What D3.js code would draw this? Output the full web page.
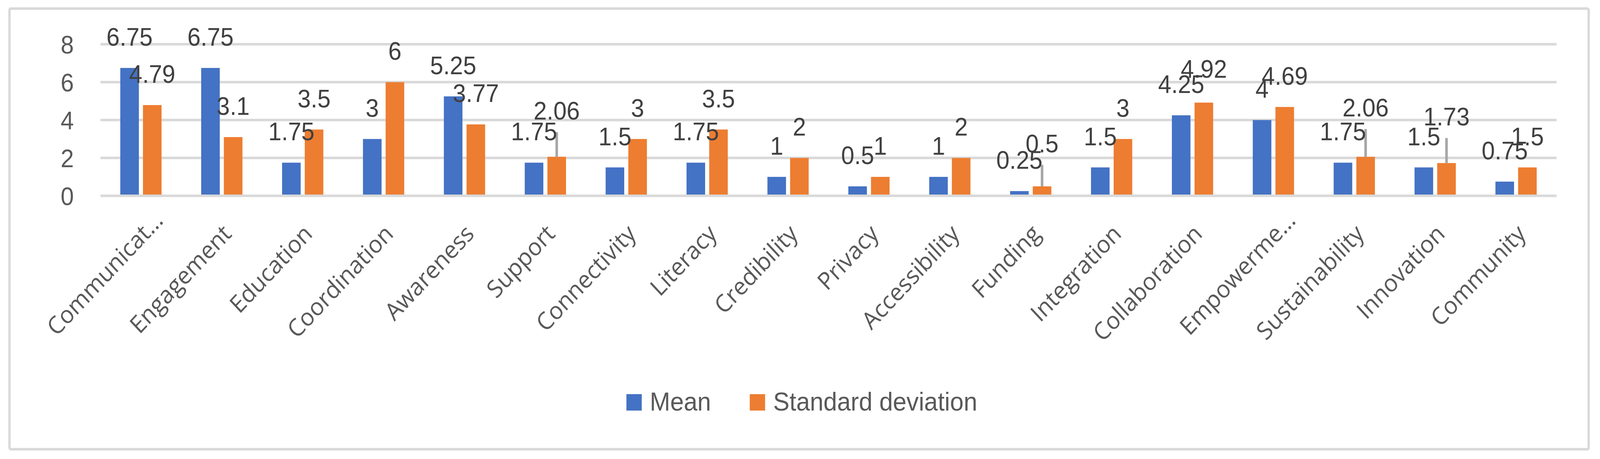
<!DOCTYPE html>
<html>
<head>
<meta charset="utf-8">
<script src="https://cdn.jsdelivr.net/npm/d3@7"></script>
<style>
  html, body { margin: 0; padding: 0; background: #fff; overflow: hidden; }
  #container svg { display: block; }
</style>
</head>
<body>
<div id="container"></div>
<script>
const categories = ["Communication", "Engagement", "Education", "Coordination", "Awareness", "Support",
  "Connectivity", "Literacy", "Credibility", "Privacy", "Accessibility", "Funding",
  "Integration", "Collaboration", "Empowerment", "Sustainability", "Innovation", "Community"]
const tickLabels = ["Communicat…", "Engagement", "Education", "Coordination", "Awareness", "Support",
  "Connectivity", "Literacy", "Credibility", "Privacy", "Accessibility", "Funding",
  "Integration", "Collaboration", "Empowerme…", "Sustainability", "Innovation", "Community"]
const seriesNames = ["Mean", "Standard deviation"]
const meanValues = [6.75, 6.75, 1.75, 3, 5.25, 1.75, 1.5, 1.75, 1, 0.5, 1, 0.25, 1.5, 4.25, 4, 1.75, 1.5, 0.75]
const sdValues = [4.79, 3.1, 3.5, 6, 3.77, 2.06, 3, 3.5, 2, 1, 2, 0.5, 3, 4.92, 4.69, 2.06, 1.73, 1.5]
const yTicks = [0, 2, 4, 6, 8]

const colors = ["#4472C4", "#ED7D31"]

// labels that were dragged up in the original (series index -> category index -> lift)
const labelLift = [{}, {5: 95, 11: 87, 13: 64, 15: 103, 16: 96}]
const defaultLift = 57

const width = 4379
const height = 1175
const plotLeft = 275
const plotRight = 4260

// scale to whatever the viewport is
const svg = d3.select("#container").append("svg")
    .attr("viewBox", `0 0 ${width} ${height}`)
    .attr("preserveAspectRatio", "none")
    .style("width", "100vw")
    .style("height", "100vh")

svg.append("rect")
    .attr("x", 26).attr("y", 22)
    .attr("width", 4348 - 26).attr("height", 1150 - 22)
    .attr("rx", 4)
    .attr("fill", "#fff")
    .attr("stroke", "#d9d9d9")
    .attr("stroke-width", 6.5)

const x0 = d3.scaleBand()
    .domain(categories)
    .range([plotLeft, plotRight])

const groupW = x0.bandwidth() * 0.51
const x1 = d3.scaleBand()
    .domain(seriesNames)
    .range([(x0.bandwidth() - groupW) / 2, (x0.bandwidth() + groupW) / 2])
    .paddingInner(0.18)

const y = d3.scaleLinear()
    .domain([0, 8])
    .range([501.3, 113.3])

// gridlines
svg.append("g")
    .selectAll("line")
    .data(yTicks.filter(t => t > 0))
    .join("line")
    .attr("x1", plotLeft).attr("x2", plotRight)
    .attr("y1", d => y(d)).attr("y2", d => y(d))
    .attr("stroke", "#d9d9d9")
    .attr("stroke-width", 6.5)

// y tick labels
svg.append("g")
    .selectAll("text")
    .data(yTicks)
    .join("text")
    .attr("x", 202)
    .attr("y", d => y(d))
    .attr("dy", "0.36em")
    .attr("text-anchor", "end")
    .style("font-family", "'Liberation Sans', Arial, sans-serif")
    .style("font-size", "65px")
    .style("fill", "#595959")
    .text(d => d)

const series = [meanValues, sdValues]
const rows = []
series.forEach((vals, s) => {
    vals.forEach((v, i) => {
        rows.push({s, i, cat: categories[i], name: seriesNames[s], v, lift: labelLift[s][i] || defaultLift})
    })
})

// bars
svg.append("g")
    .selectAll("rect")
    .data(rows)
    .join("rect")
    .attr("x", d => x0(d.cat) + x1(d.name))
    .attr("y", d => y(d.v))
    .attr("width", x1.bandwidth())
    .attr("height", d => y(0) - y(d.v))
    .attr("fill", d => colors[d.s])

// category axis line
svg.append("line")
    .attr("x1", plotLeft).attr("x2", plotRight)
    .attr("y1", y(0)).attr("y2", y(0))
    .attr("stroke", "#d9d9d9")
    .attr("stroke-width", 6.5)

// leader lines
svg.append("g")
    .selectAll("line")
    .data(rows.filter(d => d.lift > 80))
    .join("line")
    .attr("x1", d => x0(d.cat) + x1(d.name) + x1.bandwidth() / 2)
    .attr("x2", d => x0(d.cat) + x1(d.name) + x1.bandwidth() / 2)
    .attr("y1", d => y(d.v))
    .attr("y2", d => y(d.v) - d.lift + 32)
    .attr("stroke", "#a6a6a6")
    .attr("stroke-width", 7)

// data labels
svg.append("g")
    .selectAll("text")
    .data(rows)
    .join("text")
    .attr("x", d => x0(d.cat) + x1(d.name) + x1.bandwidth() / 2)
    .attr("y", d => y(d.v) - d.lift)
    .attr("text-anchor", "middle")
    .style("font-family", "'Liberation Sans', Arial, sans-serif")
    .style("font-size", "65px")
    .style("fill", "#404040")
    .text(d => String(d.v))

// category labels, rotated
const catG = svg.append("g")
    .selectAll("g")
    .data(categories)
    .join("g")
    .attr("transform", d => `translate(${x0(d) + x0.bandwidth() / 2 + 30},602) rotate(-45)`)

catG.append("text")
    .attr("text-anchor", "end")
    .style("font-family", "'Open Sans', sans-serif")
    .style("font-size", "62px")
    .style("fill", "#595959")
    .text((d, i) => tickLabels[i].replace("…", ""))

catG.filter((d, i) => tickLabels[i].endsWith("…"))
    .append("text")
    .attr("text-anchor", "start")
    .style("font-family", "'Open Sans', sans-serif")
    .style("font-size", "62px")
    .style("fill", "#595959")
    .text("…")

// legend
const legend = svg.append("g")
let lx = 0
seriesNames.forEach((name, s) => {
    const item = legend.append("g").attr("transform", `translate(${lx},0)`)
    item.append("rect")
        .attr("x", 0).attr("y", 1009)
        .attr("width", 42).attr("height", 42)
        .attr("fill", colors[s])
    const t = item.append("text")
        .attr("x", 64).attr("y", 1051)
        .style("font-family", "'Liberation Sans', Arial, sans-serif")
        .style("font-size", "67px")
        .style("fill", "#595959")
        .text(name)
    const w = t.node().getComputedTextLength()
    lx += 64 + w + (s < seriesNames.length - 1 ? 106 : 0)
})
legend.attr("transform", `translate(${2194.5 - lx / 2},0)`)
</script>
</body>
</html>
